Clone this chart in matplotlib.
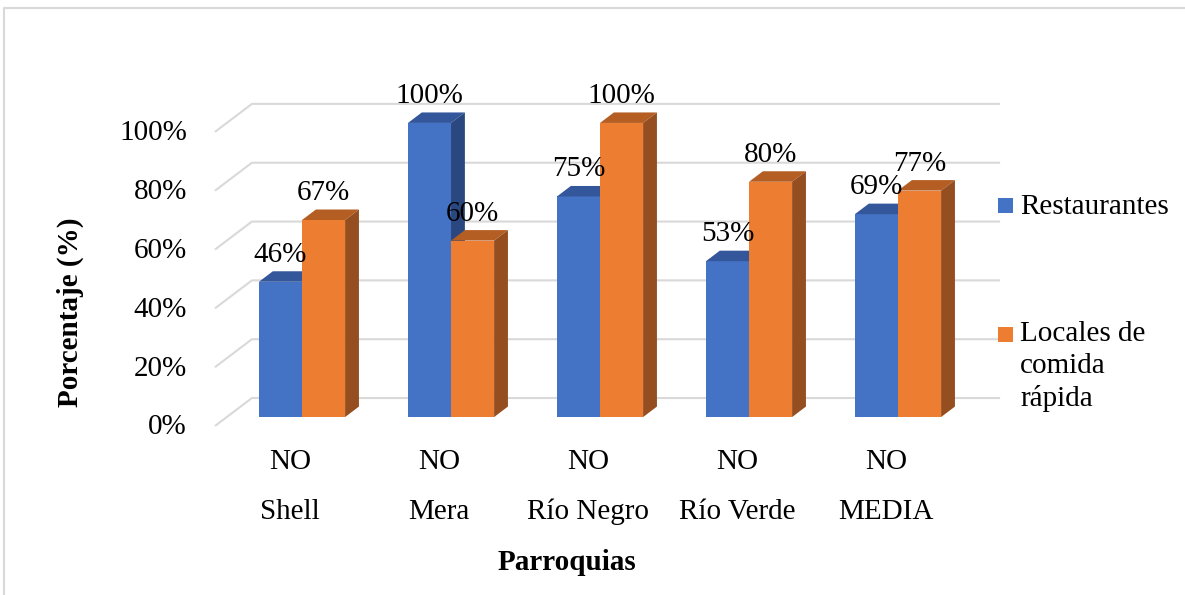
# -*- coding: utf-8 -*-
"""
Gráfico de barras 3D: porcentaje por parroquia (Restaurantes vs Locales de comida rápida)
"""

import matplotlib
matplotlib.use('Agg')  # backend sin interfaz
import matplotlib.pyplot as plt
from matplotlib.patches import Rectangle, Polygon
from matplotlib.lines import Line2D

# Datos
parroquias = ['Shell', 'Mera', 'Río Negro', 'Río Verde', 'MEDIA']
prefijo = 'NO'
restaurantes = [46, 100, 75, 53, 69]
comida_rapida = [67, 60, 100, 80, 77]
ticks_y = [0, 20, 40, 60, 80, 100]
nombres_series = ['Restaurantes', 'Locales de\ncomida\nrápida']

# Colores: cara frontal, tapa, lateral
col_azul = ('#4472C4', '#34579B', '#2A477F')
col_naranja = ('#ED7D31', '#B55E23', '#954E1F')
col_grid = '#D9D9D9'

plt.rcParams['font.family'] = ['Liberation Serif', 'DejaVu Serif']
TAM = 21

# Perspectiva oblicua en unidades de datos
ANCHO = 0.289          # ancho de cada barra
DX, DY = 0.248, 9.52   # desplazamiento del fondo completo del piso
D0 = 0.32              # profundidad de la cara frontal de las barras
DB = 0.375             # fondo de cada barra


def proyectar(x, v, d):
    """Punto (x, valor, profundidad) -> coordenadas en pantalla."""
    return (x + (d - D0) * DX, v + (d - D0) * DY)


def barra_3d(ax, x0, valor, colores):
    frente, tapa, lado = colores
    ddx, ddy = DB * DX, DB * DY
    ax.add_patch(Rectangle((x0, 0), ANCHO, valor, facecolor=frente,
                           edgecolor='none', zorder=3))
    ax.add_patch(Polygon([(x0, valor), (x0 + ANCHO, valor),
                          (x0 + ANCHO + ddx, valor + ddy), (x0 + ddx, valor + ddy)],
                         closed=True, facecolor=tapa, edgecolor='none', zorder=3))
    ax.add_patch(Polygon([(x0 + ANCHO, 0), (x0 + ANCHO + ddx, ddy),
                          (x0 + ANCHO + ddx, valor + ddy), (x0 + ANCHO, valor)],
                         closed=True, facecolor=lado, edgecolor='none', zorder=3))
    ax.annotate(f'{valor}%', (x0 + ANCHO / 2, valor), xytext=(0, 19.5),
                textcoords='offset points', ha='center', va='center',
                fontsize=TAM, zorder=5)


fig = plt.figure(figsize=(11.85, 5.95), dpi=100)
ax = fig.add_axes([0, 0, 1, 1])
ax.set_xlim(-2.027, 5.926)
ax.set_ylim(-60.5, 141.8)
ax.axis('off')

# Rejilla: tramo diagonal a la izquierda y línea horizontal al fondo
x_grid = -0.505
x_fin = 4.685
for t in ticks_y:
    fx, fy = proyectar(x_grid, t, 0)
    bx, by = proyectar(x_grid, t, 1)
    ax.plot([fx, bx, x_fin], [fy, by, by], color=col_grid, lw=1.5,
            solid_capstyle='butt', zorder=1)
    ax.text(fx - 0.188, fy - 0.5, f'{t}%', ha='right', va='center', fontsize=TAM)

# Barras (de izquierda a derecha)
for i in range(len(parroquias)):
    barra_3d(ax, i - ANCHO, restaurantes[i], col_azul)
    barra_3d(ax, i, comida_rapida[i], col_naranja)
    xl = proyectar(i, 0, 0)[0]
    ax.text(xl, -15.3, prefijo, ha='center', va='center', fontsize=TAM)
    ax.text(xl, -32.3, parroquias[i], ha='center', va='center', fontsize=TAM)

# Títulos de ejes
fig.text(70 / 1185, 1 - 312 / 595, 'Porcentaje (%)', rotation=90,
         ha='center', va='center', fontsize=TAM, fontweight='bold')
fig.text(567 / 1185, 1 - 563 / 595, 'Parroquias',
         ha='center', va='center', fontsize=TAM, fontweight='bold')

# Leyenda
lado_px = 15
for color, y_px in [(col_azul[0], 205), (col_naranja[0], 334)]:
    fig.patches.append(Rectangle((998 / 1185, 1 - (y_px + lado_px / 2) / 595),
                                 lado_px / 1185, lado_px / 595,
                                 transform=fig.transFigure, facecolor=color,
                                 edgecolor='none'))
fig.text(1020 / 1185, 1 - 207 / 595, nombres_series[0], ha='left', va='center',
         fontsize=TAM)
fig.text(1020 / 1185, 1 - 321 / 595, nombres_series[1], ha='left', va='top',
         fontsize=TAM, linespacing=1.3)

# Marco del área del gráfico (solo arriba e izquierda)
fig.lines.append(Line2D([4 / 1185, 4 / 1185, 1], [0, 1 - 7.5 / 595, 1 - 7.5 / 595],
                        transform=fig.transFigure, color=col_grid, lw=1.5))

fig.savefig('out.png', dpi=100)
